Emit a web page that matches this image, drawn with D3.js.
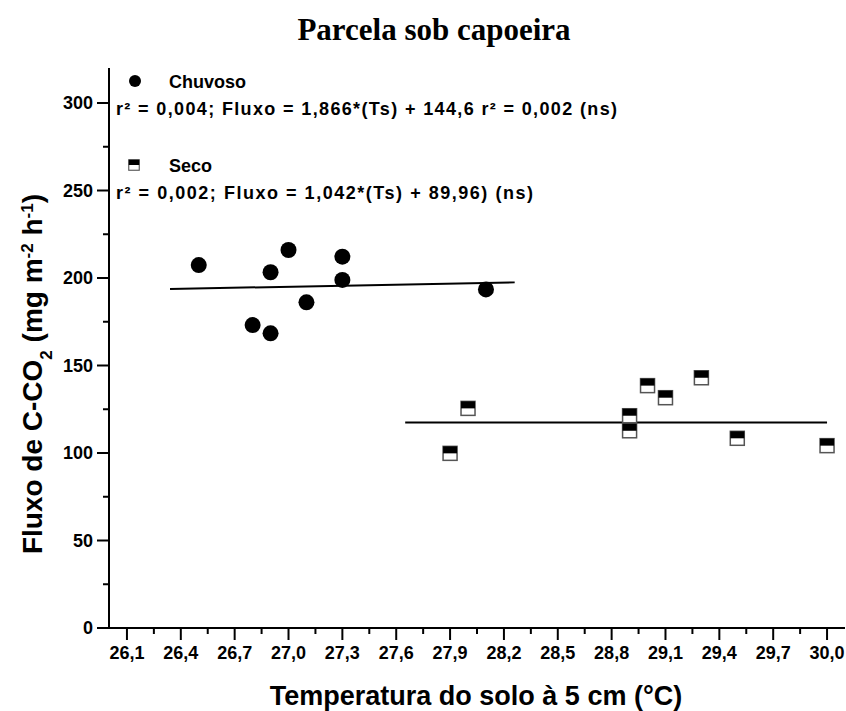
<!DOCTYPE html>
<html>
<head>
<meta charset="utf-8">
<script src="https://cdn.jsdelivr.net/npm/d3@7"></script>
<style>
  body { margin: 0; background: #fff; }
  text { font-family: "Liberation Sans", Arial, sans-serif; font-weight: bold; fill: #000; }
</style>
</head>
<body>
<script>
// data
var chuvosoTemp = [26.5, 26.9, 27.0, 27.3, 27.3, 27.1, 26.8, 26.9, 28.1];
var chuvosoFluxo = [207.4, 203.3, 216.0, 212.2, 198.9, 186.1, 173.1, 168.4, 193.5];
var secoTemp = [28.0, 27.9, 29.0, 29.1, 29.3, 28.9, 28.9, 29.5, 30.0];
var secoFluxo = [125.5, 99.8, 138.5, 131.6, 143.0, 121.3, 112.7, 108.4, 104.2];
// fitted lines (end points)
var chuvosoLineX = [26.34, 28.26];
var chuvosoLineY = [193.7, 197.5];
var secoLineX = [27.65, 30.0];
var secoLineY = [117.5, 117.5];
var xTicks = d3.range(14).map(function(i) { return +(26.1 + i * 0.3).toFixed(1); });
var yTicks = [0, 50, 100, 150, 200, 250, 300];

var w = 846, h = 711;
var svg = d3.select('body').append('svg').attr('width', w).attr('height', h);

var x = d3.scaleLinear().domain([26.0, 30.1]).range([109, 845]);
var y = d3.scaleLinear().domain([0, 320]).range([628, 68]);

// title
svg.append('text')
  .attr('x', 434).attr('y', 40)
  .attr('text-anchor', 'middle')
  .style('font-family', '"Liberation Serif", "Times New Roman", serif')
  .style('font-size', '31px')
  .text('Parcela sob capoeira');

// axes lines
svg.append('line').attr('x1', 97).attr('x2', 845).attr('y1', 628).attr('y2', 628)
  .attr('stroke', '#000').attr('stroke-width', 2);
svg.append('line').attr('x1', 109).attr('x2', 109).attr('y1', 68).attr('y2', 628)
  .attr('stroke', '#000').attr('stroke-width', 2);

// x ticks
var xMinor = xTicks.slice(0, -1).map(function(d) { return d + 0.15; });
svg.selectAll('.xt').data(xTicks).enter().append('line')
  .attr('x1', function(d) { return x(d); }).attr('x2', function(d) { return x(d); })
  .attr('y1', 628).attr('y2', 640).attr('stroke', '#000').attr('stroke-width', 2);
svg.selectAll('.xm').data(xMinor).enter().append('line')
  .attr('x1', function(d) { return x(d); }).attr('x2', function(d) { return x(d); })
  .attr('y1', 628).attr('y2', 634).attr('stroke', '#000').attr('stroke-width', 2);
svg.selectAll('.xl').data(xTicks).enter().append('text')
  .attr('x', function(d) { return x(d); }).attr('y', 659)
  .attr('text-anchor', 'middle').style('font-size', '18px')
  .text(function(d) { return d.toFixed(1).replace('.', ','); });

// y ticks
svg.selectAll('.yt').data(yTicks).enter().append('line')
  .attr('x1', 97).attr('x2', 109)
  .attr('y1', function(d) { return y(d); }).attr('y2', function(d) { return y(d); })
  .attr('stroke', '#000').attr('stroke-width', 2);
svg.selectAll('.ym').data([25, 75, 125, 175, 225, 275]).enter().append('line')
  .attr('x1', 103).attr('x2', 109)
  .attr('y1', function(d) { return y(d); }).attr('y2', function(d) { return y(d); })
  .attr('stroke', '#000').attr('stroke-width', 2);
svg.selectAll('.yl').data(yTicks).enter().append('text')
  .attr('x', 93).attr('y', function(d) { return y(d) + 6; })
  .attr('text-anchor', 'end').style('font-size', '18px')
  .text(function(d) { return d; });

// axis titles
svg.append('text')
  .attr('x', 476).attr('y', 705)
  .attr('text-anchor', 'middle').style('font-size', '27px')
  .text('Temperatura do solo à 5 cm (°C)');

var yt = svg.append('text')
  .attr('transform', 'translate(42,374) rotate(-90)')
  .attr('text-anchor', 'middle').style('font-size', '28px');
yt.append('tspan').text('Fluxo de C-CO');
yt.append('tspan').attr('baseline-shift', 'sub').style('font-size', '17px').text('2');
yt.append('tspan').text(' (mg m');
yt.append('tspan').attr('baseline-shift', 'super').style('font-size', '17px').text('-2');
yt.append('tspan').text(' h');
yt.append('tspan').attr('baseline-shift', 'super').style('font-size', '17px').text('-1');
yt.append('tspan').text(')');

// regression lines
var line = d3.line().x(function(d) { return x(d[0]); }).y(function(d) { return y(d[1]); });
svg.append('path').datum(d3.zip(chuvosoLineX, chuvosoLineY)).attr('d', line)
  .attr('fill', 'none').attr('stroke', '#000').attr('stroke-width', 2);
svg.append('path').datum(d3.zip(secoLineX, secoLineY)).attr('d', line)
  .attr('fill', 'none').attr('stroke', '#000').attr('stroke-width', 2);

// chuvoso points
svg.selectAll('.chuv').data(d3.zip(chuvosoTemp, chuvosoFluxo)).enter().append('circle')
  .attr('cx', function(d) { return x(d[0]); })
  .attr('cy', function(d) { return y(d[1]); })
  .attr('r', 8).style('fill', '#000');

// seco marker: half black / half white square
function secoMarker(g) {
  g.append('rect').attr('x', -7).attr('y', -7).attr('width', 14).attr('height', 14)
    .attr('fill', '#fff').attr('stroke', '#555').attr('stroke-width', 1.5);
  g.append('rect').attr('x', -7).attr('y', -7).attr('width', 14).attr('height', 7)
    .attr('fill', '#000');
}
svg.selectAll('.seco').data(d3.zip(secoTemp, secoFluxo)).enter().append('g')
  .attr('transform', function(d) { return 'translate(' + x(d[0]) + ',' + y(d[1]) + ')'; })
  .each(function() { secoMarker(d3.select(this)); });

// legend
svg.append('circle').attr('cx', 135).attr('cy', 81).attr('r', 6).style('fill', '#000');
svg.append('text').attr('x', 169).attr('y', 88).style('font-size', '18px').text('Chuvoso');
svg.append('text').attr('x', 116).attr('y', 115).style('font-size', '18px')
  .attr('textLength', 501).attr('lengthAdjust', 'spacing')
  .text('r² = 0,004; Fluxo = 1,866*(Ts) + 144,6 r² = 0,002 (ns)');
var lg = svg.append('g').attr('transform', 'translate(134,165) scale(0.75)');
secoMarker(lg);
svg.append('text').attr('x', 169).attr('y', 172).style('font-size', '18px').text('Seco');
svg.append('text').attr('x', 116).attr('y', 199).style('font-size', '18px')
  .attr('textLength', 417).attr('lengthAdjust', 'spacing')
  .text('r² = 0,002;  Fluxo = 1,042*(Ts) + 89,96) (ns)');
</script>
</body>
</html>
